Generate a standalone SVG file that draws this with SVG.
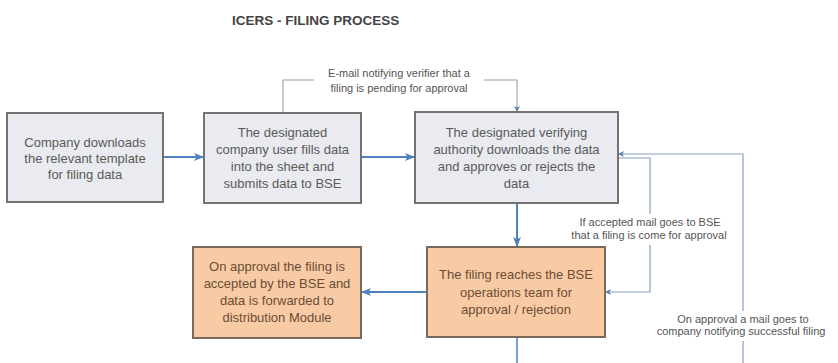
<svg xmlns="http://www.w3.org/2000/svg" width="838" height="363" viewBox="0 0 838 363">
<defs>
<style>
.title{font-family:"Liberation Sans",Arial,sans-serif;font-size:13.5px;font-weight:bold;fill:#444}
.bt{font-family:"Liberation Sans",Arial,sans-serif;font-size:13px;fill:#5a5a5a;text-anchor:middle}
.ot{font-family:"Liberation Sans",Arial,sans-serif;font-size:13px;fill:#6b4b36;text-anchor:middle}
.lbl{font-family:"Liberation Sans",Arial,sans-serif;font-size:11px;fill:#555;text-anchor:middle}
.grey{fill:#e9ebf0;stroke:#737373;stroke-width:2}
.orange{fill:#f8cba4;stroke:#7a6a5c;stroke-width:2}
.main{fill:none;stroke:#4f81bd;stroke-width:2}
.mail{fill:none;stroke:#9a9a9a;stroke-width:1}
.mail2{fill:none;stroke:#86a0c2;stroke-width:1.2}
</style>
<marker id="ah" viewBox="0 0 10 8" refX="9" refY="4" markerWidth="10" markerHeight="8" markerUnits="userSpaceOnUse" orient="auto">
<path d="M0,0 L10,4 L0,8 L2.5,4 z" fill="#4f81bd"/>
</marker>
<marker id="sh" viewBox="0 0 6 6" refX="5" refY="3" markerWidth="6" markerHeight="6" markerUnits="userSpaceOnUse" orient="auto">
<path d="M0,0 L6,3 L0,6 L1.5,3 z" fill="#5b7fb0"/>
</marker>
</defs>
<rect width="838" height="363" fill="#ffffff"/>
<text class="title" x="232" y="25">ICERS - FILING PROCESS</text>

<g id="connectors">
<line class="main" x1="164" y1="157" x2="203" y2="157" marker-end="url(#ah)"/>
<line class="main" x1="362" y1="157" x2="414" y2="157" marker-end="url(#ah)"/>
<line class="main" x1="517" y1="204" x2="517" y2="246" marker-end="url(#ah)"/>
<line class="main" x1="426" y1="292" x2="362" y2="292" marker-end="url(#ah)"/>
<path class="mail" d="M283,112 V80 H314"/>
<path class="mail" d="M484,80 H517 V111" marker-end="url(#sh)"/>
<path class="mail2" d="M619,158 H650 V214"/>
<path class="mail2" d="M650,245 V292 H606" marker-end="url(#sh)"/>
<path class="main" d="M517,338 V363" style="stroke-width:1.5"/>
<path class="mail2" d="M743,363 V341"/>
<path class="mail2" d="M743,311 V154 H619" marker-end="url(#sh)"/>
<text class="lbl" x="399" y="77">E-mail notifying verifier that a</text>
<text class="lbl" x="399" y="92">filing is pending for approval</text>
<text class="lbl" x="650" y="226">If accepted mail goes to BSE</text>
<text class="lbl" x="649" y="239">that a filing is come for approval</text>
<text class="lbl" x="743" y="323">On approval a mail goes to</text>
<text class="lbl" x="741" y="335">company notifying successful filing</text>
</g>

<g id="node-download">
<rect class="grey" x="7" y="113" width="156" height="89"/>
<text class="bt" x="85" y="146.5">Company downloads</text>
<text class="bt" x="85" y="162.5">the relevant template</text>
<text class="bt" x="85" y="178.5">for filing data</text>
</g>

<g id="node-fill">
<rect class="grey" x="204" y="113" width="157" height="90"/>
<text class="bt" x="282.5" y="137">The designated</text>
<text class="bt" x="282.5" y="154">company user fills data</text>
<text class="bt" x="282.5" y="171">into the sheet and</text>
<text class="bt" x="282.5" y="188">submits data to BSE</text>
</g>

<g id="node-verify">
<rect class="grey" x="415" y="112" width="203" height="91"/>
<text class="bt" x="516.5" y="137">The designated verifying</text>
<text class="bt" x="516.5" y="154">authority downloads the data</text>
<text class="bt" x="516.5" y="171">and approves or rejects the</text>
<text class="bt" x="516.5" y="188">data</text>
</g>

<g id="node-bse">
<rect class="orange" x="427" y="247" width="178" height="90"/>
<text class="ot" x="516" y="279">The filing reaches the BSE</text>
<text class="ot" x="516" y="296.5">operations team for</text>
<text class="ot" x="516" y="314">approval / rejection</text>
</g>

<g id="node-accepted">
<rect class="orange" x="193" y="247" width="168" height="91"/>
<text class="ot" x="277" y="271">On approval the filing is</text>
<text class="ot" x="277" y="288">accepted by the BSE and</text>
<text class="ot" x="277" y="305">data is forwarded to</text>
<text class="ot" x="277" y="322">distribution Module</text>
</g>
</svg>
